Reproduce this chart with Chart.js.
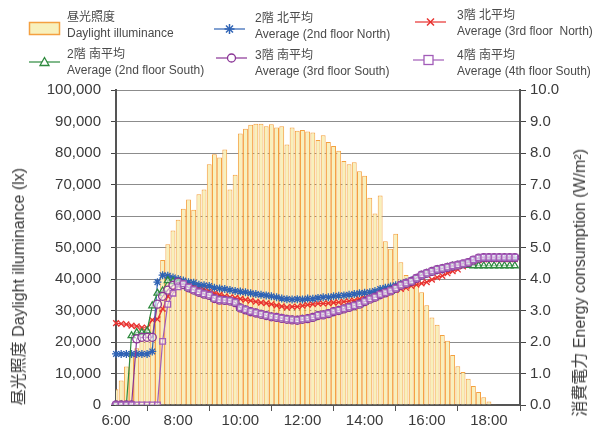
<!DOCTYPE html>
<html>
<head>
<meta charset="utf-8">
<script src="https://cdn.jsdelivr.net/npm/chart.js@4"></script>
<style>
  html, body { margin: 0; padding: 0; background: #fff; }
  #wrap { position: relative; width: 595px; height: 427px; overflow: hidden;
          font-family: "Liberation Sans", Arial, "Noto Sans CJK JP", sans-serif; color: #4a4a4a; }
  #chart { position: absolute; left: 0; top: 0; }
  .lg { position: absolute; font-size: 12px; line-height: 16px; white-space: nowrap; }
  .ico { position: absolute; }
  .ttl { position: absolute; font-size: 16px; line-height: 20px; white-space: nowrap;
         writing-mode: vertical-rl; text-orientation: sideways; transform: rotate(180deg); color: #3a3a3a; }
</style>
</head>
<body>
<div id="wrap">
  <canvas id="chart" width="595" height="427"></canvas>

  <!-- 凡例 -->
  <svg class="ico" style="left:28px;top:21px" width="34" height="16">
    <rect x="1.5" y="1.5" width="30" height="12" fill="#f8f0bc" stroke="#f4a040" stroke-width="1.5"/>
  </svg>
  <div class="lg" style="left:67px;top:9px">昼光照度<br>Daylight illuminance</div>

  <svg class="ico" style="left:213px;top:22px" width="34" height="14">
    <line x1="1" y1="7" x2="32" y2="7" stroke="#2f63b5" stroke-width="1.2"/>
    <g stroke="#2f63b5" stroke-width="1.5">
      <line x1="16.5" y1="2" x2="16.5" y2="12"/><line x1="11.5" y1="7" x2="21.5" y2="7"/>
      <line x1="13" y1="3.5" x2="20" y2="10.5"/><line x1="13" y1="10.5" x2="20" y2="3.5"/>
    </g>
  </svg>
  <div class="lg" style="left:255px;top:10px">2階 北平均<br>Average (2nd floor North)</div>

  <svg class="ico" style="left:414px;top:15px" width="34" height="14">
    <line x1="1" y1="7" x2="32" y2="7" stroke="#e8312f" stroke-width="1.2"/>
    <g stroke="#e8312f" stroke-width="1.5">
      <line x1="13" y1="3.5" x2="20" y2="10.5"/><line x1="13" y1="10.5" x2="20" y2="3.5"/>
    </g>
  </svg>
  <div class="lg" style="left:457px;top:7px">3階 北平均<br>Average (3rd floor&nbsp; North)</div>

  <svg class="ico" style="left:28px;top:55px" width="34" height="14">
    <line x1="1" y1="7" x2="32" y2="7" stroke="#2e8a3e" stroke-width="1.2"/>
    <polygon points="16.5,2.5 21,10.5 12,10.5" fill="#fff" stroke="#2e8a3e" stroke-width="1.3"/>
  </svg>
  <div class="lg" style="left:67px;top:46px">2階 南平均<br>Average (2nd floor South)</div>

  <svg class="ico" style="left:215px;top:51px" width="34" height="14">
    <line x1="1" y1="7" x2="32" y2="7" stroke="#8a3596" stroke-width="1.2"/>
    <circle cx="16.5" cy="7" r="4" fill="#fff" stroke="#8a3596" stroke-width="1.3"/>
  </svg>
  <div class="lg" style="left:255px;top:47px">3階 南平均<br>Average (3rd floor South)</div>

  <svg class="ico" style="left:412px;top:53px" width="34" height="14">
    <line x1="1" y1="7" x2="32" y2="7" stroke="#a25cb8" stroke-width="1.2"/>
    <rect x="12" y="2.5" width="9" height="9" fill="#fff" stroke="#a25cb8" stroke-width="1.3"/>
  </svg>
  <div class="lg" style="left:457px;top:47px">4階 南平均<br>Average (4th floor South)</div>

  <!-- 軸タイトル -->
  <div class="ttl" style="left:9px;bottom:22px">昼光照度 Daylight illuminance (lx)</div>
  <div class="ttl" style="left:570px;bottom:10px">消費電力 Energy consumption (W/m²)</div>
</div>

<script>
// 時刻 (10分間隔)
const timeLabels = [
  "6:00","6:10","6:20","6:30","6:40","6:50","7:00","7:10","7:20","7:30","7:40","7:50",
  "8:00","8:10","8:20","8:30","8:40","8:50","9:00","9:10","9:20","9:30","9:40","9:50",
  "10:00","10:10","10:20","10:30","10:40","10:50","11:00","11:10","11:20","11:30","11:40","11:50",
  "12:00","12:10","12:20","12:30","12:40","12:50","13:00","13:10","13:20","13:30","13:40","13:50",
  "14:00","14:10","14:20","14:30","14:40","14:50","15:00","15:10","15:20","15:30","15:40","15:50",
  "16:00","16:10","16:20","16:30","16:40","16:50","17:00","17:10","17:20","17:30","17:40","17:50",
  "18:00","18:10","18:20","18:30","18:40","18:50","19:00"
];

// 昼光照度 (lx)
const illuminance = [
  5000, 7800, 12200, 15500, 18000, 20500, 22800, 27500, 31000, 46000,
  51000, 55400, 58800, 62300, 65200, 62000, 66900, 68400, 76400, 79600,
  78600, 81100, 68400, 73100, 86200, 87700, 89000, 89300, 89300, 88500,
  89100, 88100, 88500, 82700, 88100, 87100, 87300, 86800, 86500, 84100,
  85600, 83500, 82200, 80700, 77500, 76400, 77100, 74200, 72800, 65800,
  60800, 66500, 52000, 49600, 54400, 45300, 41300, 40000, 38600, 35800,
  31700, 27800, 25500, 22200, 20400, 15900, 12300, 10500, 8300, 6000,
  4100, 2500, 1100, 200, 0, 0, 0, 0, null
];

// 消費電力 (W/m2)
const north2F = [
  1.62, 1.62, 1.62, 1.62, 1.62, 1.62, 1.62, 1.70, 3.90, 4.12,
  4.10, 4.05, 4.00, 3.95, 3.90, 3.88, 3.82, 3.80, 3.78, 3.72,
  3.70, 3.68, 3.65, 3.62, 3.60, 3.58, 3.55, 3.52, 3.50, 3.48,
  3.45, 3.42, 3.38, 3.36, 3.35, 3.36, 3.35, 3.38, 3.37, 3.40,
  3.42, 3.42, 3.45, 3.47, 3.48, 3.50, 3.52, 3.55, 3.56, 3.58,
  3.62, 3.68, 3.72, 3.76, 3.80, 3.85, 3.90, 3.95, 4.03, 4.10,
  4.18, 4.22, 4.28, 4.30, 4.35, 4.40, 4.45, 4.48, 4.52, 4.58,
  4.62, 4.65, 4.65, 4.65, 4.65, 4.65, 4.65, 4.65, null
];
const north3F = [
  2.60, 2.58, 2.56, 2.52, 2.50, 2.46, 2.45, 2.70, 2.72, 3.05,
  3.45, 3.65, 3.80, 3.85, 3.80, 3.75, 3.70, 3.68, 3.62, 3.55,
  3.50, 3.45, 3.42, 3.40, 3.37, 3.34, 3.31, 3.28, 3.25, 3.23,
  3.20, 3.16, 3.13, 3.10, 3.12, 3.12, 3.15, 3.18, 3.20, 3.22,
  3.22, 3.23, 3.25, 3.26, 3.28, 3.30, 3.32, 3.36, 3.40, 3.42,
  3.46, 3.50, 3.55, 3.60, 3.65, 3.68, 3.72, 3.78, 3.82, 3.86,
  3.90, 3.98, 4.05, 4.10, 4.18, 4.25, 4.30, 4.40, 4.50, 4.55,
  4.60, 4.62, 4.63, 4.63, 4.63, 4.63, 4.63, 4.63, null
];
const south2F = [
  0.00, 0.00, 0.00, 2.20, 2.30, 2.30, 2.35, 3.15, 3.55, 3.62,
  3.95, 3.92, 3.88, 3.82, 3.71, 3.64, 3.57, 3.51, 3.47, 3.37,
  3.32, 3.31, 3.29, 3.24, 3.07, 3.01, 2.95, 2.91, 2.87, 2.83,
  2.79, 2.77, 2.74, 2.71, 2.69, 2.68, 2.71, 2.73, 2.77, 2.83,
  2.85, 2.89, 2.95, 2.99, 3.04, 3.09, 3.14, 3.19, 3.27, 3.35,
  3.41, 3.49, 3.55, 3.61, 3.69, 3.79, 3.85, 3.91, 4.01, 4.11,
  4.17, 4.23, 4.29, 4.32, 4.36, 4.40, 4.42, 4.43, 4.43, 4.42,
  4.42, 4.42, 4.42, 4.42, 4.42, 4.42, 4.42, 4.42, null
];
const south3F = [
  0.00, 0.00, 0.00, 0.00, 2.10, 2.15, 2.15, 2.15, 3.20, 3.45,
  3.65, 3.80, 3.90, 3.82, 3.72, 3.65, 3.58, 3.52, 3.48, 3.38,
  3.33, 3.32, 3.30, 3.25, 3.08, 3.02, 2.96, 2.92, 2.88, 2.84,
  2.80, 2.78, 2.75, 2.72, 2.70, 2.69, 2.72, 2.74, 2.78, 2.84,
  2.86, 2.90, 2.96, 3.00, 3.05, 3.10, 3.15, 3.20, 3.28, 3.36,
  3.42, 3.50, 3.56, 3.62, 3.70, 3.80, 3.86, 3.92, 4.02, 4.12,
  4.18, 4.24, 4.30, 4.33, 4.37, 4.41, 4.44, 4.48, 4.52, 4.60,
  4.66, 4.68, 4.68, 4.68, 4.68, 4.68, 4.68, 4.68, null
];
const south4F = [
  0.00, 0.00, 0.00, 0.00, 0.00, 0.00, 0.00, 0.00, 0.00, 2.02,
  3.20, 3.55, 3.75, 3.85, 3.74, 3.66, 3.59, 3.53, 3.49, 3.39,
  3.34, 3.33, 3.31, 3.26, 3.09, 3.03, 2.97, 2.93, 2.89, 2.85,
  2.81, 2.79, 2.76, 2.73, 2.71, 2.70, 2.73, 2.75, 2.79, 2.85,
  2.87, 2.91, 2.97, 3.01, 3.06, 3.11, 3.16, 3.21, 3.29, 3.37,
  3.43, 3.51, 3.57, 3.63, 3.71, 3.81, 3.87, 3.93, 4.03, 4.13,
  4.19, 4.25, 4.31, 4.34, 4.38, 4.42, 4.45, 4.49, 4.53, 4.61,
  4.67, 4.69, 4.69, 4.69, 4.69, 4.69, 4.69, 4.69, null
];

const FONT = '"Liberation Sans", Arial, sans-serif';
const tickFont = { family: FONT, size: 15 };
const AXIS = '#555';

function lineSet(label, data, color, style, order) {
  return {
    type: 'line',
    label: label,
    data: data,
    yAxisID: 'y1',
    borderColor: color,
    borderWidth: 1.2,
    pointStyle: style,
    pointRadius: 4,
    pointBorderWidth: 1.3,
    pointBorderColor: color,
    pointBackgroundColor: 'rgba(255,255,255,0.5)',
    tension: 0,
    order: order
  };
}

new Chart(document.getElementById('chart'), {
  data: {
    labels: timeLabels,
    datasets: [
      {
        type: 'bar',
        label: '昼光照度',
        data: illuminance,
        yAxisID: 'y',
        backgroundColor: '#f8f0bc',
        borderColor: '#f4a040',
        borderWidth: 1,
        barPercentage: 0.94,
        categoryPercentage: 1,
        order: 10
      },
      lineSet('3階 北平均', north3F, '#e8312f', 'crossRot', 5),
      lineSet('2階 北平均', north2F, '#2f63b5', 'star', 4),
      lineSet('2階 南平均', south2F, '#2e8a3e', 'triangle', 3),
      lineSet('3階 南平均', south3F, '#8a3596', 'circle', 2),
      lineSet('4階 南平均', south4F, '#a25cb8', 'rect', 1)
    ]
  },
  options: {
    responsive: false,
    animation: false,
    layout: { padding: { top: 90, left: 0, right: 0, bottom: 0 } },
    plugins: { legend: { display: false }, tooltip: { enabled: false } },
    scales: {
      x: {
        type: 'category',
        offset: false,
        grid: { display: true, drawOnChartArea: false, tickLength: 6, tickColor: AXIS },
        border: { color: AXIS, width: 2 },
        ticks: { autoSkip: false, maxRotation: 0, font: tickFont, color: '#3a3a3a', padding: 1 },
        afterBuildTicks: s => { s.ticks = s.ticks.filter(t => t.value % 12 === 0 && t.value <= 72); },
        afterFit: s => { s.height = 22; }
      },
      y: {
        position: 'left',
        min: 0, max: 100000,
        ticks: { stepSize: 10000, font: tickFont, color: '#3a3a3a', padding: 10,
                 callback: v => v.toLocaleString('en-US') },
        grid: { color: '#8c8c8c', lineWidth: 1, tickColor: '#444', tickLength: 5 },
        border: { color: AXIS, width: 2 },
        afterFit: s => { s.width = 116; }
      },
      y1: {
        position: 'right',
        min: 0, max: 10,
        ticks: { stepSize: 1, font: tickFont, color: '#3a3a3a', padding: 4,
                 callback: v => v.toFixed(1) },
        grid: { drawOnChartArea: false, tickColor: '#444', tickLength: 6 },
        border: { color: AXIS, width: 2 },
        afterFit: s => { s.width = 75; }
      }
    }
  }
});
</script>
</body>
</html>
